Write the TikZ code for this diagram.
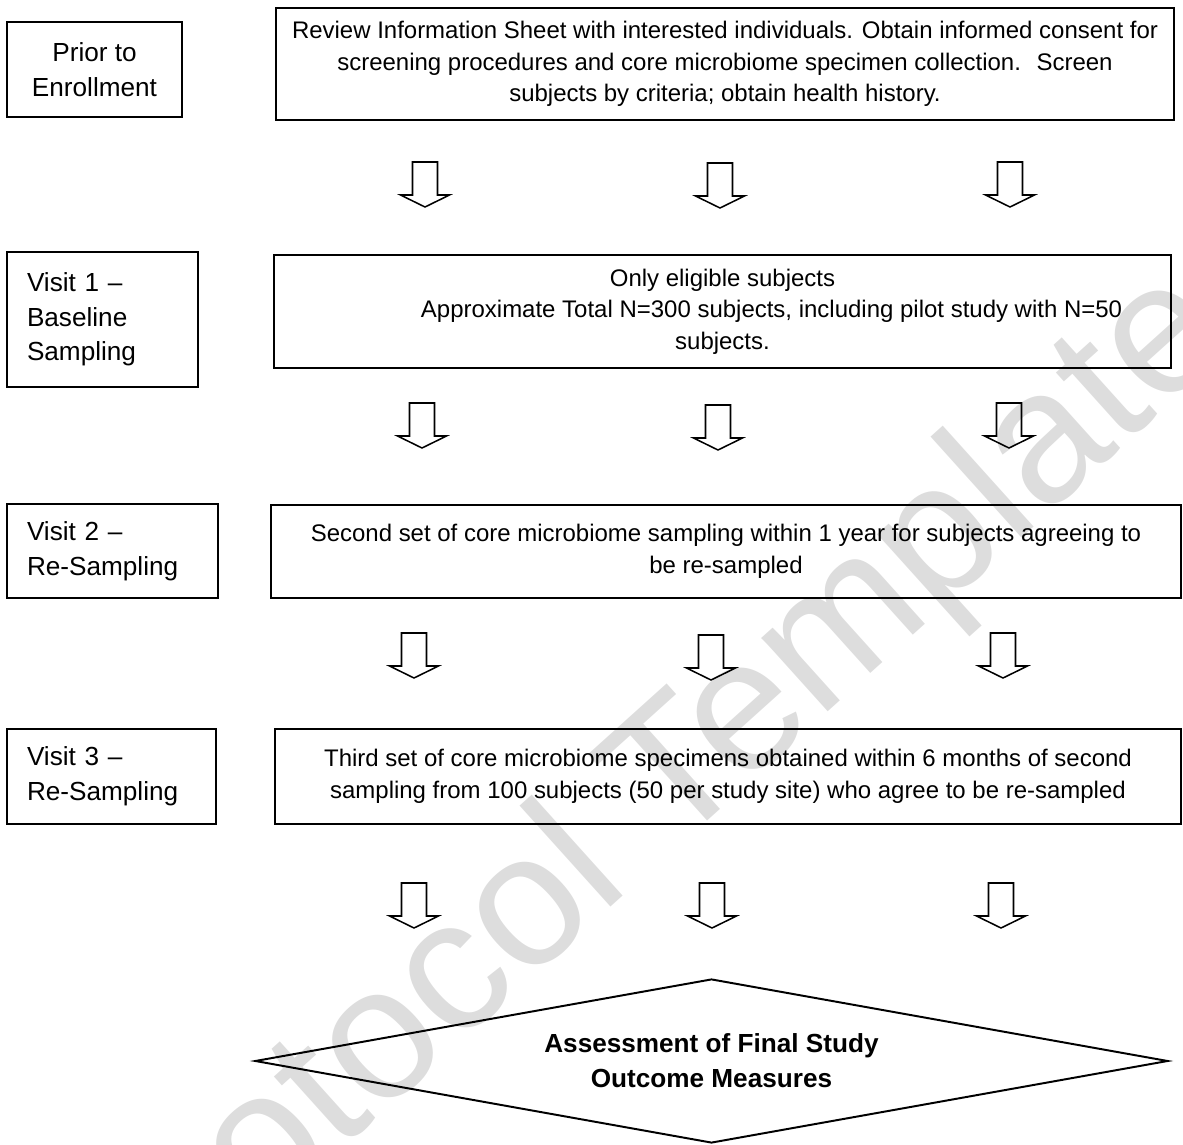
\documentclass[tikz,border=0pt]{standalone}
\usepackage{fontspec}
\setmainfont{Liberation Sans}
\usetikzlibrary{shapes.geometric}
\definecolor{wmgray}{HTML}{DDDDDD}
\newcommand{\pxl}{0.4587pt}

\begin{document}
\begin{tikzpicture}[x=\pxl, y=-\pxl,
  stage/.style={draw, line width=0.9pt, font=\fontsize{12}{15.9}\selectfont, align=left, inner xsep=20*\pxl, inner ysep=0pt},
  task/.style={draw, line width=0.9pt, font=\fontsize{11}{14.5}\selectfont, align=center, inner sep=0pt},
  dnarrow/.pic={\draw[line width=0.7pt] (-12.5,0) -- (12.5,0) -- (12.5,33) -- (24.5,33) -- (0,45) -- (-24.5,33) -- (-12.5,33) -- cycle;}]
\useasboundingbox (0,0) rectangle (1183,1145);

% watermark behind everything
\begin{scope}
\clip (0,0) rectangle (1183,1145);
\node[font=\fontsize{86}{86}\selectfont, text=wmgray, rotate=42] (mark) at (647,810) {Protocol Template};
\end{scope}

% stages on the left
\node[stage, align=center, minimum width=175*\pxl, minimum height=95*\pxl] (prior) at (94.5,69.5) {Prior to\\Enrollment};
\node[stage, text width=151*\pxl, minimum height=135*\pxl] (visitone) at (102.5,319.5) {Visit 1 --\\Baseline\\Sampling};
\node[stage, text width=171*\pxl, minimum height=94*\pxl] (visittwo) at (112.5,551) {Visit 2 --\\Re-Sampling};
\node[stage, text width=169*\pxl, minimum height=95*\pxl] (visitthree) at (111.5,776.5) {Visit 3 --\\Re-Sampling};

% what happens at each stage
\node[task, minimum width=898*\pxl, minimum height=112*\pxl] (review) at (725,64) {Review Information Sheet with interested individuals. Obtain informed consent for\\screening procedures and core microbiome specimen collection.~ Screen\\subjects by criteria; obtain health history.};
\node[task, minimum width=897*\pxl, minimum height=113*\pxl] (eligible) at (722.5,311.5) {Only eligible subjects\\\hspace*{45pt}Approximate Total N=300 subjects, including pilot study with N=50\\subjects.};
\node[task, minimum width=910*\pxl, minimum height=93*\pxl] (secondset) at (726,551.5) {Second set of core microbiome sampling within 1 year for subjects agreeing to\\be re-sampled};
\node[task, minimum width=906*\pxl, minimum height=95*\pxl] (thirdset) at (728,776.5) {Third set of core microbiome specimens obtained within 6 months of second\\sampling from 100 subjects (50 per study site) who agree to be re-sampled};

\node[draw, line width=0.9pt, shape=diamond, aspect=5.5, inner sep=0pt, minimum width=913*\pxl, minimum height=164*\pxl, font=\fontsize{12}{16}\selectfont\bfseries, align=center] (outcome) at (711.5,1061) {Assessment of Final Study\\Outcome Measures};

% block arrows between the rows
\pic at (425,162) {dnarrow};
\pic at (720,163) {dnarrow};
\pic at (1010,162) {dnarrow};
\pic at (422,403) {dnarrow};
\pic at (718,405) {dnarrow};
\pic at (1009,403) {dnarrow};
\pic at (414,633) {dnarrow};
\pic at (711,635) {dnarrow};
\pic at (1003,633) {dnarrow};
\pic at (414,883) {dnarrow};
\pic at (712,883) {dnarrow};
\pic at (1001,883) {dnarrow};
\end{tikzpicture}
\end{document}
